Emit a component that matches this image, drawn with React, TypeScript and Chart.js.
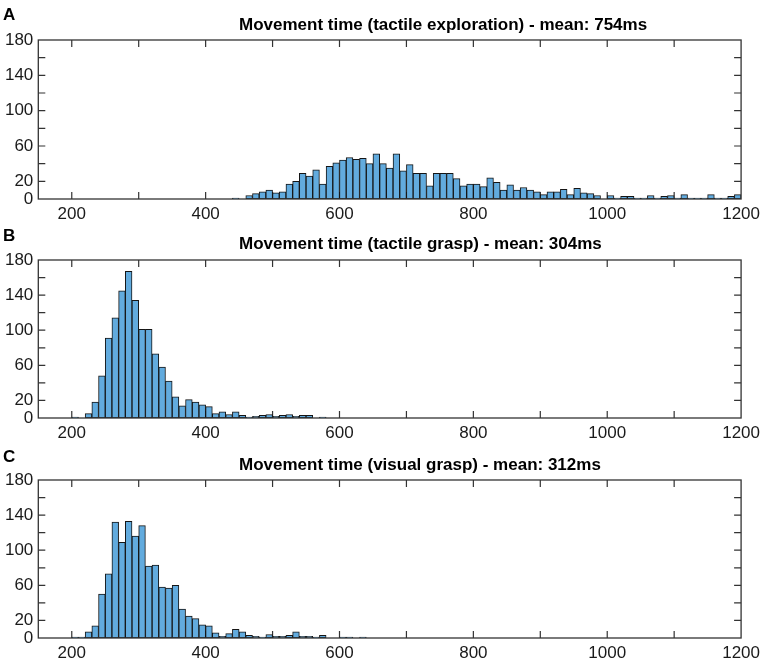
import { useEffect, useRef } from "react";
import { Chart, registerables } from "chart.js";

Chart.register(...registerables);

// histogram bins (ms) and axis range
const BIN_MS = 10;
const X_MIN = 150;
const X_MAX = 1200;
const Y_MAX = 180;

// only these ticks get a label, the rest are bare tick marks
const xTickLabels = [200, 400, 600, 800, 1000, 1200];
const yTickLabels = [0, 20, 60, 100, 140, 180];

const panelLetters = ["A", "B", "C"];
const panelTitles = [
  "Movement time (tactile exploration) - mean: 754ms",
  "Movement time (tactile grasp) - mean: 304ms",
  "Movement time (visual grasp) - mean: 312ms",
];

// A: tactile exploration, first bin 440-450 ms
const explorationStart = 440;
const explorationCounts = [
  1, 0, 4, 6, 8, 10, 7, 8, 17, 20, 29, 26, 33, 17, 37, 41, 44, 47, 45, 46, 40,
  51, 40, 35, 51, 32, 39, 29, 29, 15, 29, 29, 29, 23, 15, 17, 17, 14, 24, 19,
  10, 16, 10, 13, 10, 8, 5, 8, 8, 11, 5, 12, 7, 6, 4, 0, 4, 1, 3, 3, 1, 1, 4,
  1, 3, 4, 1, 5, 1, 1, 1, 5, 1, 1, 3, 5,
];

// B: tactile grasp, first bin 200-210 ms
const tactileGraspStart = 200;
const tactileGraspCounts = [
  1, 0, 5, 18, 48, 91, 114, 145, 167, 134, 101, 101, 73, 58, 42, 24, 14, 21, 18,
  15, 13, 5, 7, 4, 7, 3, 1, 2, 3, 4, 2, 3, 4, 2, 3, 3, 0, 1,
];

// C: visual grasp, first bin 200-210 ms
const visualGraspStart = 200;
const visualGraspCounts = [
  1, 1, 7, 14, 50, 73, 132, 109, 133, 116, 128, 82, 83, 58, 57, 60, 33, 25, 22,
  15, 14, 6, 2, 5, 10, 7, 3, 2, 1, 4, 2, 2, 3, 7, 2, 2, 1, 3, 0, 0, 1, 1, 0, 1,
];

const FONT = '"Liberation Sans", Arial, Helvetica, sans-serif';
const AXIS_COLOR = "#333333";
const TICK_LEN = 7;
const BAR_FILL = "rgb(98, 171, 222)";
const BAR_EDGE = "#151515";

// MATLAB-like box with inward ticks on all four sides, plus letter and title
const matlabAxes = {
  id: "matlabAxes",
  beforeDatasetsDraw(chart: any) {
    const { ctx, chartArea: a, scales } = chart;
    ctx.save();
    ctx.strokeStyle = AXIS_COLOR;
    ctx.lineWidth = 1.2;
    ctx.beginPath();
    for (const t of scales.x.ticks) {
      if (t.value % 100 !== 0 || t.value <= X_MIN || t.value >= X_MAX) continue;
      const px = scales.x.getPixelForValue(t.value);
      ctx.moveTo(px, a.bottom);
      ctx.lineTo(px, a.bottom - TICK_LEN);
      ctx.moveTo(px, a.top);
      ctx.lineTo(px, a.top + TICK_LEN);
    }
    for (const t of scales.y.ticks) {
      if (t.value <= 0 || t.value >= Y_MAX) continue;
      const py = scales.y.getPixelForValue(t.value);
      ctx.moveTo(a.left, py);
      ctx.lineTo(a.left + TICK_LEN, py);
      ctx.moveTo(a.right, py);
      ctx.lineTo(a.right - TICK_LEN, py);
    }
    ctx.stroke();
    ctx.restore();
  },
  afterDatasetsDraw(chart: any) {
    const { ctx, chartArea: a } = chart;
    ctx.save();
    ctx.strokeStyle = AXIS_COLOR;
    ctx.lineWidth = 1.3;
    ctx.strokeRect(a.left, a.top, a.right - a.left, a.bottom - a.top);
    ctx.restore();
  },
  afterDraw(chart: any, _args: any, opts: any) {
    const { ctx } = chart;
    ctx.save();
    ctx.fillStyle = "#000";
    ctx.textBaseline = "alphabetic";
    ctx.textAlign = "left";
    ctx.font = `bold 17px ${FONT}`;
    ctx.fillText(opts.letter, 3, opts.letterY);
    ctx.fillText(opts.title, 239, opts.titleY);
    ctx.restore();
  },
};

type PanelProps = {
  letter: string;
  title: string;
  start: number;
  counts: number[];
  top: number;
  padTop: number;
  letterY: number;
  titleY: number;
};

function HistPanel(props: PanelProps) {
  const canvasRef = useRef<HTMLCanvasElement>(null);
  const chartRef = useRef<Chart | null>(null);

  useEffect(() => {
    if (!canvasRef.current) return;
    chartRef.current?.destroy();

    const points = props.counts.map((c, i) => ({
      x: props.start + i * BIN_MS + BIN_MS / 2,
      y: c,
    }));

    chartRef.current = new Chart(canvasRef.current, {
      type: "bar",
      data: {
        datasets: [
          {
            data: points as any,
            backgroundColor: BAR_FILL,
            borderColor: BAR_EDGE,
            borderWidth: 1,
            borderSkipped: false,
            barPercentage: 1,
            categoryPercentage: 1,
          },
        ],
      },
      options: {
        responsive: false,
        animation: false,
        layout: { padding: { top: props.padTop, right: 21.5, left: 0, bottom: 0 } },
        plugins: {
          legend: { display: false },
          tooltip: { enabled: false },
          matlabAxes: {
            letter: props.letter,
            title: props.title,
            letterY: props.letterY,
            titleY: props.titleY,
          },
        } as any,
        scales: {
          x: {
            type: "linear",
            min: X_MIN,
            max: X_MAX,
            offset: false,
            grid: { display: false, drawTicks: false },
            border: { display: false },
            ticks: {
              stepSize: 100,
              includeBounds: false,
              autoSkip: false,
              maxRotation: 0,
              padding: 5,
              color: "#1a1a1a",
              font: { family: FONT, size: 17 },
              callback: (v: any) => (xTickLabels.includes(v) ? String(v) : ""),
            },
            afterFit: (scale: any) => {
              scale.height = 26;
            },
          },
          y: {
            min: 0,
            max: Y_MAX,
            grid: { display: false, drawTicks: false },
            border: { display: false },
            ticks: {
              stepSize: 20,
              autoSkip: false,
              padding: 5,
              color: "#1a1a1a",
              font: { family: FONT, size: 17 },
              callback: (v: any) => (yTickLabels.includes(v) ? String(v) : ""),
            },
            afterFit: (scale: any) => {
              scale.width = 38.3;
            },
          },
        },
      },
      plugins: [matlabAxes],
    });

    return () => {
      chartRef.current?.destroy();
      chartRef.current = null;
    };
  }, []);

  return (
    <canvas
      ref={canvasRef}
      width={765}
      height={225}
      style={{ position: "absolute", left: 0, top: props.top, display: "block" }}
    />
  );
}

export default function App() {
  return (
    <div
      style={{
        position: "absolute",
        left: 0,
        top: 0,
        width: 765,
        height: 661,
        overflow: "hidden",
        background: "#fff",
      }}
    >
      <HistPanel
        letter={panelLetters[0]}
        title={panelTitles[0]}
        start={explorationStart}
        counts={explorationCounts}
        top={0}
        padTop={40}
        letterY={20}
        titleY={29.5}
      />
      <HistPanel
        letter={panelLetters[1]}
        title={panelTitles[1]}
        start={tactileGraspStart}
        counts={tactileGraspCounts}
        top={219}
        padTop={41}
        letterY={21.7}
        titleY={29.5}
      />
      <HistPanel
        letter={panelLetters[2]}
        title={panelTitles[2]}
        start={visualGraspStart}
        counts={visualGraspCounts}
        top={439}
        padTop={41}
        letterY={23.3}
        titleY={31}
      />
    </div>
  );
}
